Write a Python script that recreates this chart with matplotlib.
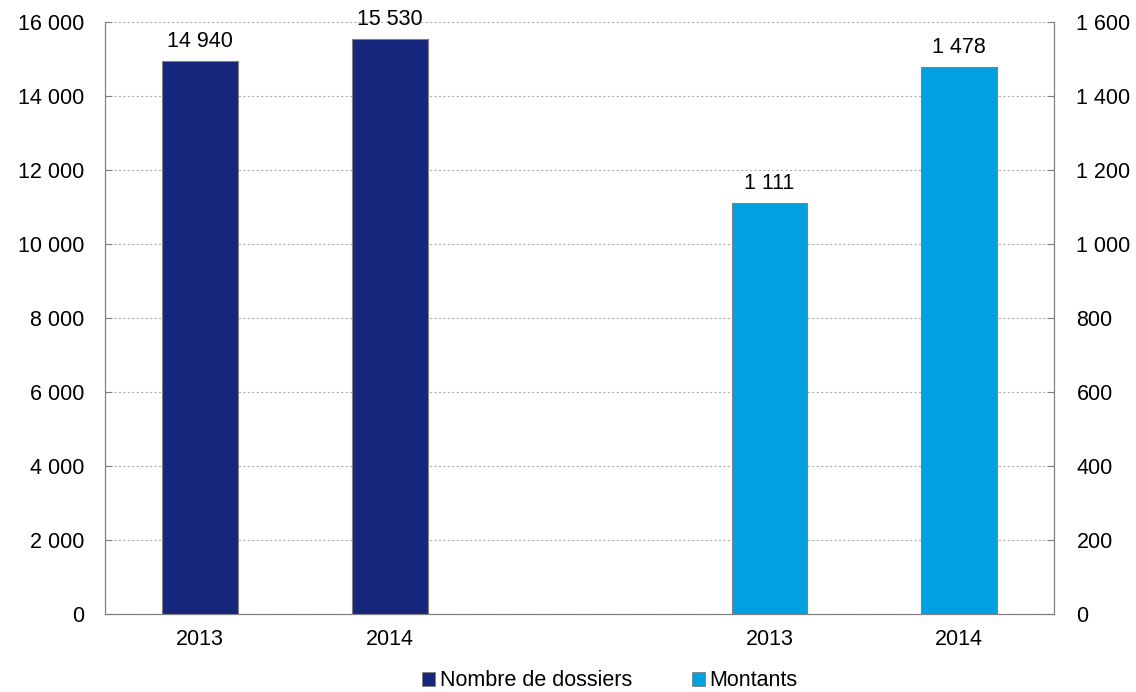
import matplotlib.pyplot as plt
from matplotlib.patches import Patch

years = ["2013", "2014"]
nb_dossiers = [14940, 15530]
montants = [1111, 1478]

navy = "#15267c"
light = "#00a0e1"
fs = 15.5


def fmt(v):
    return f"{v:,.0f}".replace(",", " ")


plt.rcParams["font.family"] = ["Liberation Sans", "DejaVu Sans"]

fig = plt.figure(figsize=(11.36, 6.92), dpi=100)
ax = fig.add_axes([0.0925, 0.1127, 0.8355, 0.8555])
ax2 = ax.twinx()

pos_left = [0, 1]
pos_right = [3, 4]

ax.bar(pos_left, nb_dossiers, width=0.4, color=navy, edgecolor="#808080", linewidth=0.8, zorder=3)
ax2.bar(pos_right, montants, width=0.4, color=light, edgecolor="#808080", linewidth=0.8, zorder=3)

for x, v in zip(pos_left, nb_dossiers):
    ax.text(x, v + 250, fmt(v), ha="center", va="bottom", fontsize=fs)
for x, v in zip(pos_right, montants):
    ax2.text(x, v + 25, fmt(v), ha="center", va="bottom", fontsize=fs)

ax.set_xlim(-0.5, 4.5)
ax.set_ylim(0, 16000)
ax2.set_ylim(0, 1600)
ax.set_yticks(range(0, 16001, 2000))
ax.set_yticklabels([fmt(v) for v in range(0, 16001, 2000)])
ax2.set_yticks(range(0, 1601, 200))
ax2.set_yticklabels([fmt(v) for v in range(0, 1601, 200)])
ax.set_xticks(pos_left + pos_right)
ax.set_xticklabels(years + years)

ax.grid(axis="y", linestyle=(0, (2, 2)), color="#b0b0b0", linewidth=0.8, zorder=0)
ax.set_axisbelow(True)

for a in (ax, ax2):
    a.spines["top"].set_visible(False)
    for s in ("left", "right", "bottom"):
        a.spines[s].set_color("#808080")
    a.tick_params(axis="y", direction="in", length=5, color="#808080", labelsize=fs, pad=15)
ax.tick_params(axis="x", length=0, labelsize=fs, pad=11)
ax2.tick_params(axis="y", pad=16)

handles = [Patch(facecolor=navy, edgecolor="#808080", linewidth=0.6),
           Patch(facecolor=light, edgecolor="#808080", linewidth=0.6)]
fig.legend(handles, ["Nombre de dossiers", "Montants"], loc="center",
           bbox_to_anchor=(0.537, 0.016), ncol=2, frameon=False, fontsize=fs,
           handlelength=0.6, handleheight=0.6, handletextpad=0.2, columnspacing=2.8,
           borderpad=0.1)

fig.savefig("out.png", dpi=100)
